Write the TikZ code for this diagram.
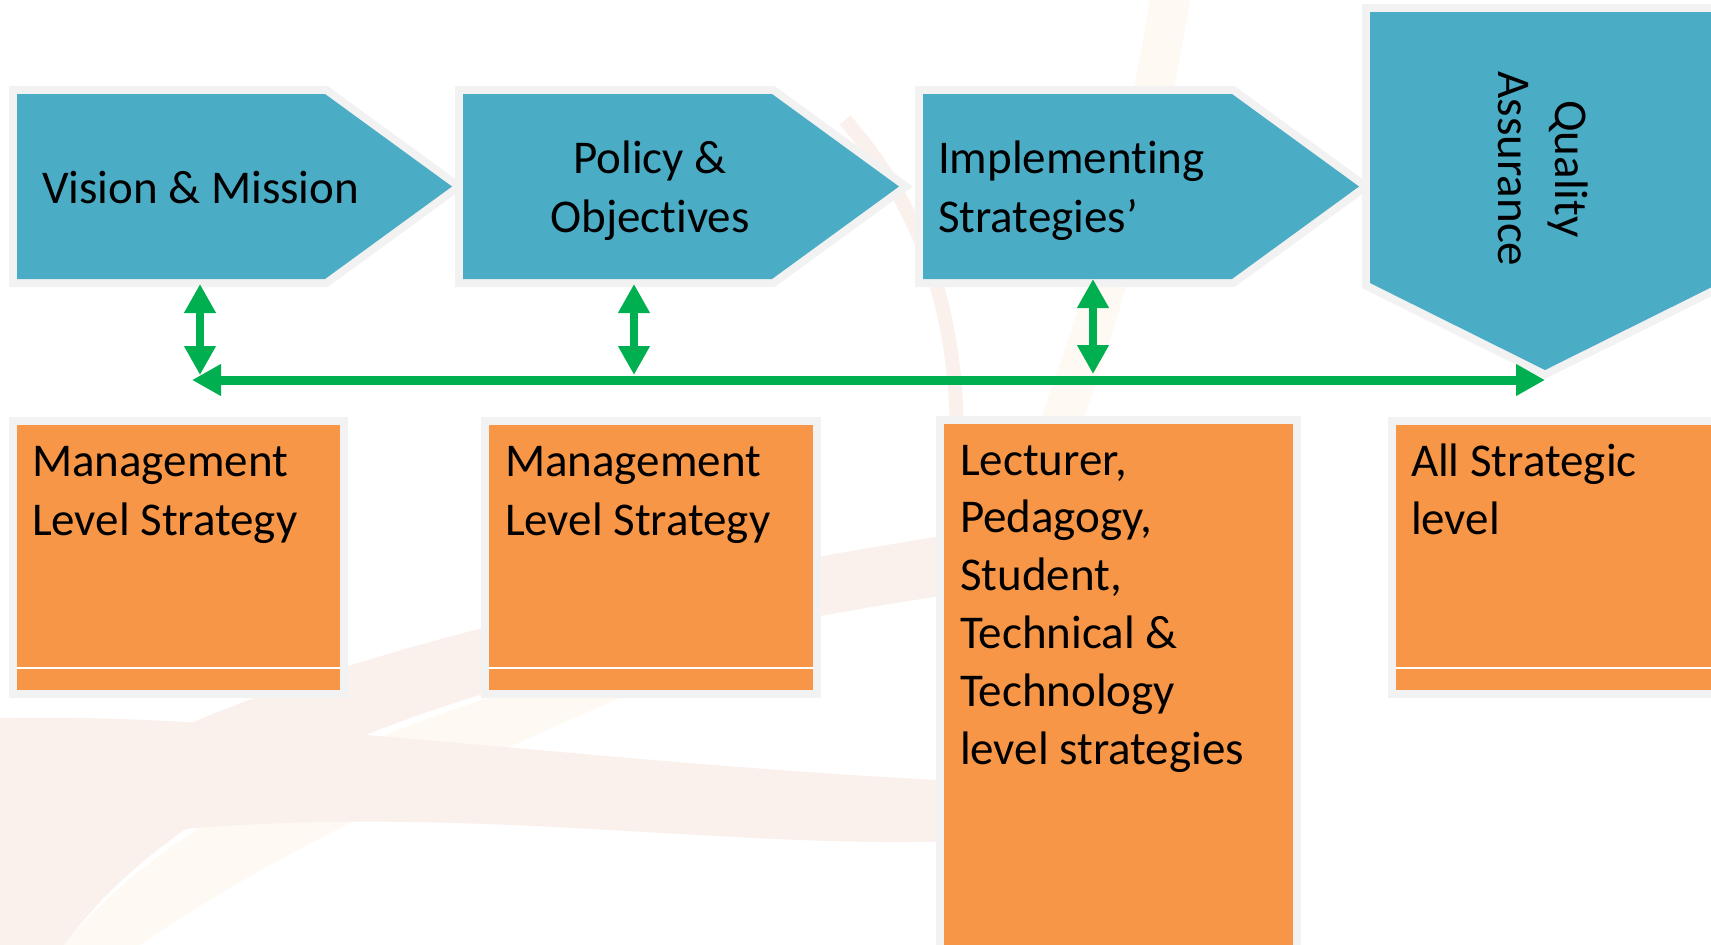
\documentclass[tikz,border=0pt]{standalone}
\usepackage{fontspec}
\setmainfont{Carlito}[Ligatures=NoCommon]
\usetikzlibrary{arrows.meta}
\definecolor{chevblue}{HTML}{4BACC6}
\definecolor{boxorange}{HTML}{F79646}
\definecolor{linkgreen}{HTML}{00B050}
\definecolor{framegray}{HTML}{F2F2F2}
\definecolor{swirlpink}{HTML}{FAF1ED}
\definecolor{swirlcream}{HTML}{FEFAF3}
\begin{document}
\begin{tikzpicture}[x=1pt,y=-1pt,
  chev/.style={fill=chevblue, preaction={draw=framegray, line width=16pt, line join=miter}},
  obox/.style={rectangle, fill=boxorange, inner sep=0pt, outer sep=0pt, anchor=north west,
    preaction={draw=framegray, line width=16pt}},
  lbl/.style={inner sep=0pt, outer sep=0pt, text=black, font=\fontsize{47}{59}\selectfont},
  link/.style={draw=linkgreen, line width=8.5pt,
    {Triangle[length=29pt,width=30pt]}-{Triangle[length=29pt,width=30pt]}},
  swirlband/.style={fill=swirlpink, draw=none},
  creamband/.style={fill=swirlcream, draw=none}
]
\useasboundingbox (0,0) rectangle (1711,945);
\fill[white] (0,0) rectangle (1711,945);
\clip (0,0) rectangle (1711,945);

% faint background swirl
\fill[creamband] (64,945) .. controls (200,780) and (500,660) .. (980,590)
  -- (980,540) .. controls (650,690) and (350,800) .. (140,945) -- cycle;
\fill[swirlband] (0,828) .. controls (150,720) and (400,620) .. (980,530)
  -- (980,590) .. controls (500,660) and (200,760) .. (64,945) -- (0,945) -- cycle;
\fill[swirlband] (0,718) .. controls (250,712) and (600,765) .. (980,782)
  -- (980,840) .. controls (700,855) and (350,780) .. (0,857) -- cycle;
\fill[creamband] (1150,0) .. controls (1130,120) and (1100,260) .. (1040,420)
  -- (1080,430) .. controls (1140,260) and (1170,120) .. (1190,0) -- cycle;
\draw[swirlpink, line width=14pt] (845,120) .. controls (960,250) and (960,400) .. (955,480);

% blue chevrons
\path[chev] (17,94) -- (325,94) -- (452,186.5) -- (325,279) -- (17,279) -- cycle;
\path[chev] (463,94) -- (772,94) -- (899,186.5) -- (772,279) -- (463,279) -- cycle;
\path[chev] (923,94) -- (1232,94) -- (1359,186.5) -- (1232,279) -- (923,279) -- cycle;
\path[chev] (1370,12) -- (1720,12) -- (1720,283) -- (1545,370) -- (1370,283) -- cycle;

% orange boxes
\node[obox, minimum width=323pt, minimum height=265pt] (b1) at (17,425) {};
\node[obox, minimum width=324pt, minimum height=265pt] (b2) at (489,425) {};
\node[obox, minimum width=349pt, minimum height=540pt] (b3) at (944,424) {};
\node[obox, minimum width=330pt, minimum height=265pt] (b4) at (1396,425) {};
\draw[white, line width=1.5pt] (b1.west |- 0,668) -- (b1.east |- 0,668);
\draw[white, line width=1.5pt] (b2.west |- 0,668) -- (b2.east |- 0,668);
\draw[white, line width=1.5pt] (b4.west |- 0,668) -- (b4.east |- 0,668);

% texts
\node[lbl, anchor=base west] (tv) at (42,203) {Vision \& Mission};
\node[lbl, anchor=base] (tp) at (650,173) {\parbox[t]{320pt}{\centering Policy \&\\Objectives}};
\node[lbl, anchor=base west] (ti) at (938,173) {\parbox[t]{320pt}{\raggedright Implementing\\Strategies’}};
\node[lbl, anchor=base, rotate=-90, font=\fontsize{47}{57}\selectfont] (tq) at (1555,169)
  {\parbox[t]{320pt}{\centering Quality\\Assurance}};
\node[lbl, anchor=base west] (tm1) at (32,476) {\parbox[t]{320pt}{\raggedright Management\\Level Strategy}};
\node[lbl, anchor=base west] (tm2) at (505,476) {\parbox[t]{320pt}{\raggedright Management\\Level Strategy}};
\node[lbl, anchor=base west, font=\fontsize{47}{57.8}\selectfont] (tl) at (960,475)
  {\parbox[t]{330pt}{\raggedright Lecturer,\\Pedagogy,\\Student,\\Technical \&\\Technology\\level strategies}};
\node[lbl, anchor=base west, font=\fontsize{47}{58}\selectfont] (ta) at (1411,476) {\parbox[t]{300pt}{\raggedright All Strategic\\level}};

% green connectors
\coordinate (a1t) at (200,284); \coordinate (a1b) at (200,375);
\coordinate (a2t) at (634,284); \coordinate (a2b) at (634,375);
\coordinate (a3t) at (1093,279); \coordinate (a3b) at (1093,374);
\coordinate (hl) at (192,380); \coordinate (hr) at (1545,380);
\draw[link] (a1t) -- (a1b);
\draw[link] (a2t) -- (a2b);
\draw[link] (a3t) -- (a3b);
\draw[link, line width=9pt] (hl) -- (hr);
\end{tikzpicture}
\end{document}
